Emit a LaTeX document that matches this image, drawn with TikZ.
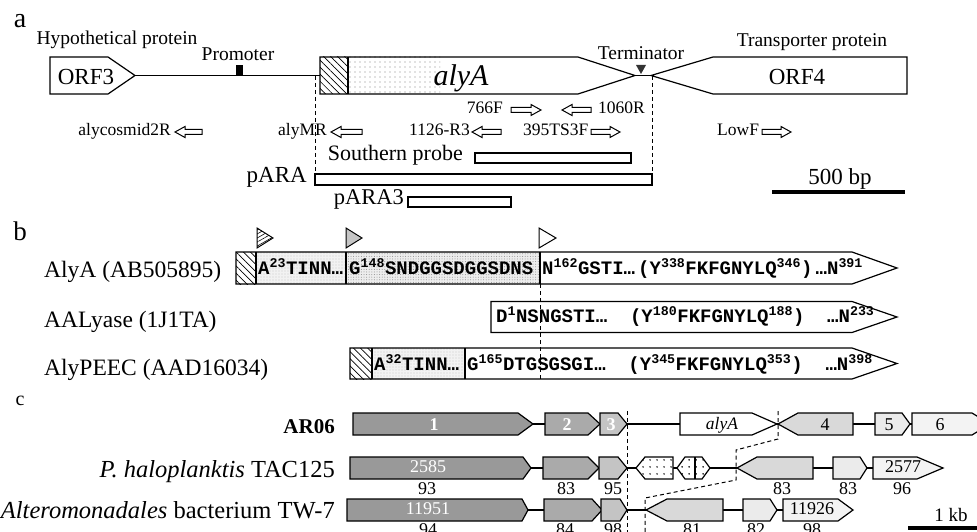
\documentclass[tikz,border=0pt]{standalone}
\usepackage{fontspec}
\setmainfont{Liberation Serif}
\setmonofont{Liberation Mono}
\usetikzlibrary{patterns.meta}
\newcommand\fs[1]{\fontsize{#1}{#1}\selectfont}
\newcommand\su[1]{\textsuperscript{#1}}
\newcommand\genR[6]{\draw[gene,#6] (#1,{#4-#5}) -- (#2,{#4-#5}) -- (#3,#4) -- (#2,{#4+#5}) -- (#1,{#4+#5}) -- cycle;}
\newcommand\genL[6]{\draw[gene,#6] (#1,#4) -- (#2,{#4-#5}) -- (#3,{#4-#5}) -- (#3,{#4+#5}) -- (#2,{#4+#5}) -- cycle;}
\newcommand\primR[3]{\draw[prim] (#1,{#3-2.5}) -- ({#2-10},{#3-2.5}) -- ({#2-10},{#3-5.5}) -- (#2,#3) -- ({#2-10},{#3+5.5}) -- ({#2-10},{#3+2.5}) -- (#1,{#3+2.5}) -- cycle;}
\newcommand\primL[3]{\draw[prim] (#2,{#3-2.5}) -- ({#1+10},{#3-2.5}) -- ({#1+10},{#3-5.5}) -- (#1,#3) -- ({#1+10},{#3+5.5}) -- ({#1+10},{#3+2.5}) -- (#2,{#3+2.5}) -- cycle;}
\definecolor{ga}{HTML}{999999}
\definecolor{gb}{HTML}{AAAAAA}
\definecolor{gc}{HTML}{C4C4C4}
\definecolor{gd}{HTML}{D9D9D9}
\definecolor{ge}{HTML}{EBEBEB}
\definecolor{gf}{HTML}{F3F3F3}
\begin{document}
\begin{tikzpicture}[x=1pt,y=-1pt,
  gene/.style={draw=black,line width=1.2pt,line join=miter},
  prim/.style={draw=black,fill=white,line width=1pt,line join=miter},
  bb/.style={line width=1.2pt},
  dsh/.style={line width=1pt,dash pattern=on 4pt off 3pt},
  lab/.style={font=\fs{19.5},inner sep=0},
  big/.style={font=\fs{23},inner sep=0},
  prm/.style={font=\fs{17.5},inner sep=0},
  mono/.style={font=\fs{19}\ttfamily\bfseries,inner sep=0},
  rname/.style={font=\fs{23.5},inner sep=0},
  cname/.style={font=\fs{24.5},inner sep=0},
  num/.style={font=\fs{18},inner sep=0},
  wnum/.style={font=\fs{18},text=white,inner sep=0},
  wbold/.style={font=\fs{18}\bfseries,text=white,inner sep=0},
  hatch/.style={pattern={Lines[angle=-45,distance=5pt,line width=.7pt]}},
]
\useasboundingbox (0,0) rectangle (977,532);

% ================= a =================
\node[font=\fs{28},inner sep=0,anchor=base] (la) at (20,28) {a};
\node[lab,anchor=base] (hyp) at (117,45) {Hypothetical protein};
\node[lab,anchor=base] (prom) at (238,61) {Promoter};
\node[lab,anchor=base] (term) at (641,60) {Terminator};
\node[lab,anchor=base] (trans) at (812,47) {Transporter protein};

\draw[bb] (135,75.5) -- (320,75.5);
\draw[bb] (635,75.5) -- (651,75.5);
\genR{50}{108}{135}{75.5}{18.5}{fill=white}
\fill[hatch] (320,57) rectangle (348,94);
\fill[pattern={Dots[radius=.7pt,distance=5pt]},pattern color=gray] (348,57) rectangle (440,94);
\draw[line width=1.2pt] (348,57) -- (348,94);
\genR{320}{578}{635}{75.5}{18.5}{}
\genL{651}{713}{907}{75.5}{18.5}{}
\fill (236,65) rectangle (243,76);
\fill[black!80] (636,65) -- (646,65) -- (641,74) -- cycle;

\node[big,anchor=base] (orf3) at (86,85) {ORF3};
\node[font=\fs{30}\itshape,inner sep=0,anchor=base] (alya) at (461,86) {alyA};
\node[big,anchor=base] (orf4) at (797,85) {ORF4};

\draw[dsh] (315,76) -- (315,180);
\draw[dsh] (652,76) -- (652,180);

% primers
\node[prm,anchor=mid east] (p1) at (171,133) {alycosmid2R};
\primL{175}{202}{132}
\node[prm,anchor=mid east] (p2) at (327,133) {alyMR};
\primL{331}{362}{132}
\node[prm,anchor=mid east] (p3) at (470,133) {1126-R3};
\primL{472}{501}{132}
\node[prm,anchor=mid west] (p4) at (523,133) {395TS3F};
\primR{591}{620}{132}
\node[prm,anchor=mid east] (p5) at (503,111) {766F};
\primR{511}{541}{110}
\primL{562}{591}{110}
\node[prm,anchor=mid west] (p6) at (598,111) {1060R};
\node[prm,anchor=mid west] (p7) at (717,133) {LowF};
\primR{762}{791}{132}

\node[font=\fs{22},inner sep=0,anchor=mid east] (sp) at (463,158) {Southern probe};
\draw[line width=1.2pt] (475,153) rectangle (631,163);
\node[big,anchor=mid east] (para) at (307,180) {pARA};
\draw[line width=1.2pt] (315,174) rectangle (652,185);
\node[font=\fs{22.5},inner sep=0,anchor=mid east] (para3) at (404,202) {pARA3};
\draw[line width=1.2pt] (408,197) rectangle (511,207);

\node[big,anchor=base] (bp) at (840,184) {500 bp};
\fill (772,190) rectangle (905,194);

% ================= b =================
\node[font=\fs{27},inner sep=0,anchor=base] (lb) at (20,240) {b};
\draw[line width=1pt,pattern={Lines[angle=30,distance=3.5pt,line width=.6pt]}] (257,228) -- (273,238) -- (257,248) -- cycle;
\draw[line width=1pt,fill=gray!45] (346,228) -- (362,238) -- (346,248) -- cycle;
\draw[line width=1pt,fill=white] (539,228) -- (556,238) -- (539,248) -- cycle;

\node[rname,anchor=base west] (n1) at (44,277) {AlyA (AB505895)};
\node[rname,anchor=base west] (n2) at (44,327) {AALyase (1J1TA)};
\node[rname,anchor=base west] (n3) at (44,375) {AlyPEEC (AAD16034)};

% AlyA
\fill[hatch] (236,252) rectangle (256,284);
\fill[gray!10] (256,252) rectangle (346,284);
\fill[pattern={Dots[radius=.45pt,distance=3pt]},pattern color=gray] (256,252) rectangle (346,284);
\fill[gray!14] (346,252) rectangle (540,284);
\fill[pattern={Dots[radius=.5pt,distance=2.6pt]},pattern color=gray!90] (346,252) rectangle (540,284);
\genR{236}{852}{897}{268}{16}{}
\draw[line width=1.2pt] (256,252) -- (256,284) (346,252) -- (346,284) (540,252) -- (540,284);
% AALyase
\genR{491}{852}{897}{317}{15.5}{}
% AlyPEEC
\fill[hatch] (350,348) rectangle (372,379);
\fill[gray!10] (372,348) rectangle (465,379);
\fill[pattern={Dots[radius=.45pt,distance=3pt]},pattern color=gray] (372,348) rectangle (465,379);
\genR{350}{852}{897}{363.5}{15.5}{}
\draw[line width=1.2pt] (372,348) -- (372,379) (465,348) -- (465,379);
\draw[dsh] (540,284) -- (540,380);

\node[mono,anchor=base west] (s1a) at (258,274) {A\su{23}TINN…};
\node[mono,anchor=base west] (s1b) at (349,274) {G\su{148}SNDGGSDGGSDNS};
\node[mono,anchor=base west] (s1c) at (542,274) {N\su{162}GSTI…\,(Y\su{338}FKFGNYLQ\su{346})\,…N\su{391}};
\node[mono,anchor=base west] (s2) at (496,322) {D\su{1}NSNGSTI…\ \ (Y\su{180}FKFGNYLQ\su{188})\ \ …N\su{233}};
\node[mono,anchor=base west] (s3a) at (374,370) {A\su{32}TINN…};
\node[mono,anchor=base west] (s3b) at (467,370) {G\su{165}DTGSGSGI…\ \ (Y\su{345}FKFGNYLQ\su{353})\ \ …N\su{398}};

% ================= c =================
\node[font=\fs{20},inner sep=0,anchor=base] (lc) at (20,405) {c};
\node[font=\fs{21}\bfseries,inner sep=0,anchor=base east] (r1) at (335,433) {AR06};
\node[cname,anchor=base east] (r2) at (335,477) {\textit{P. haloplanktis} TAC125};
\node[cname,anchor=base east] (r3) at (335,518) {\textit{Alteromonadales} bacterium TW-7};

% row 1
\draw[bb] (520,424) -- (960,424);
\genR{353}{518}{533}{424}{11}{fill=ga}
\genR{545}{588}{600}{424}{11}{fill=gb}
\genR{600}{618}{627}{424}{11}{fill=gc}
\genR{680}{752}{777}{424}{11}{fill=white}
\genL{778}{798}{853}{424}{11}{fill=gd}
\genR{875}{902}{910}{424}{11}{fill=ge}
\genR{912}{972}{990}{424}{11}{fill=gf}
\node[wbold] (t1) at (434,425) {1};
\node[wbold] (t2) at (567,425) {2};
\node[wbold] (t3) at (611,425) {3};
\node[font=\fs{17.5}\itshape,inner sep=0] (t0) at (722,425) {alyA};
\node[num] (t4) at (825,425) {4};
\node[num] (t5) at (889,425) {5};
\node[num] (t6) at (940,425) {6};

% row 2
\draw[bb] (520,468) -- (880,468);
\genR{350}{523}{531}{468}{11}{fill=ga}
\genR{543}{588}{599}{468}{11}{fill=gb}
\genR{599}{618}{627}{468}{11}{fill=gc}
\fill[white] (636,468) -- (645,457) -- (673,457) -- (673,479) -- (645,479) -- cycle;
\fill[pattern={Dots[radius=.9pt,distance=6.5pt]}] (636,468) -- (645,457) -- (673,457) -- (673,479) -- (645,479) -- cycle;
\draw[gene] (636,468) -- (645,457) -- (673,457) -- (673,479) -- (645,479) -- cycle;
\fill[white] (677,468) -- (685,457) -- (702,457) -- (710,468) -- (702,479) -- (685,479) -- cycle;
\fill[pattern={Dots[radius=.9pt,distance=6.5pt]}] (677,468) -- (685,457) -- (702,457) -- (710,468) -- (702,479) -- (685,479) -- cycle;
\draw[gene] (677,468) -- (685,457) -- (702,457) -- (710,468) -- (702,479) -- (685,479) -- cycle;
\draw[gene] (695,457) -- (695,479);
\genL{737}{757}{813}{468}{11}{fill=gd}
\genR{833}{860}{867}{468}{11}{fill=ge}
\genR{873}{917}{943}{468}{11}{fill=gf}
\node[wnum] (u1) at (428,467) {2585};
\node[num] (u7) at (903,467) {2577};
\node[num] (v1) at (427,489) {93};
\node[num] (v2) at (566,489) {83};
\node[num] (v3) at (613,489) {95};
\node[num] (v4) at (782,489) {83};
\node[num] (v5) at (848,489) {83};
\node[num] (v6) at (902,489) {96};

% row 3
\draw[bb] (520,510) -- (790,510);
\genR{347}{522}{528}{510}{11}{fill=ga}
\genR{544}{592}{602}{510}{11}{fill=gb}
\genR{601}{620}{627}{510}{11}{fill=gc}
\genL{646}{667}{723}{510}{11}{fill=gd}
\genR{743}{770}{777}{510}{11}{fill=ge}
\genR{783}{838}{853}{510}{11}{fill=gf}
\node[wnum] (w1) at (428,509) {11951};
\node[num] (w7) at (812,509) {11926};
\node[num] (x1) at (428,530) {94};
\node[num] (x2) at (565,530) {84};
\node[num] (x3) at (613,530) {98};
\node[num] (x4) at (692,530) {81};
\node[num] (x5) at (756,530) {82};
\node[num] (x6) at (812,530) {98};

% dashed guides
\draw[dsh] (627,411) -- (627,535);
\draw[dsh] (778,411) -- (778,439) -- (736,450) -- (736,480) -- (645,498) -- (645,535);

% scale
\node[font=\fs{19},inner sep=0,anchor=base] (kb) at (951,521) {1 kb};
\fill (908,526) rectangle (980,530);
\end{tikzpicture}
\end{document}
